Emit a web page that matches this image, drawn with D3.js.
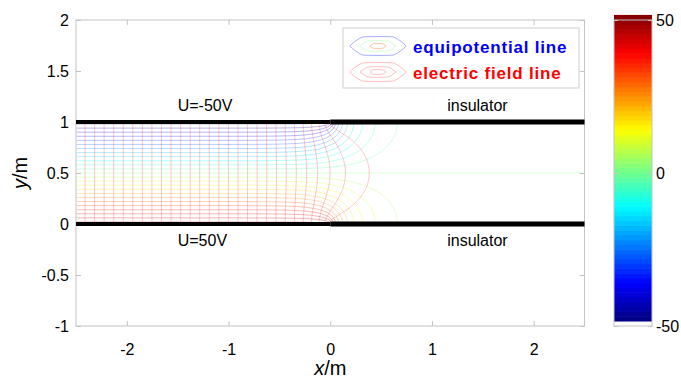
<!DOCTYPE html>
<html>
<head>
<meta charset="utf-8">
<script src="https://cdn.jsdelivr.net/npm/d3@7"></script>
<style>
  body { margin: 0; background: #fff; }
  svg { font-family: "Liberation Sans", Arial, sans-serif; }
</style>
</head>
<body>
<svg id="chart" width="681" height="378"></svg>
<script>
// plates (x < 0) and insulators (x > 0) on the two lines y = 0 and y = 1
const segmentX = [-2.5, 0, 2.5];
const plateY = [0, 1];
const plateVolts = [50, -50];          // bottom plate, top plate
const plateLabels = ['U=50V', 'U=-50V'];
const insulatorLabel = 'insulator';

// contour levels
const equiLevels = [-48, -44, -40, -36, -32, -28, -24, -20, -16, -12, -8, -4, 0,
  4, 8, 12, 16, 20, 24, 28, 32, 36, 40, 44, 48];
const fieldLevels = [9.4, 18.8, 28.2, 37.6, 47, 56.4, 65.8, 75.2, 84.6, 94, 103.4,
  112.8, 122.2, 131.6, 141, 150.4, 159.8, 169.2, 178.6, 188, 197.4, 206.8, 216.2,
  225.6, 235, 244.4, 253.8, 263.2];

const xTicks = [-2, -1, 0, 1, 2];
const yTicks = [-1, -0.5, 0, 0.5, 1, 1.5, 2];
const cbTicks = [-50, 0, 50];

const W = 681, H = 378;
const margin = { top: 20, right: 96.5, bottom: 52, left: 76 };

const svg = d3.select('#chart');

const x = d3.scaleLinear().domain([-2.5, 2.5]).range([margin.left, W - margin.right]);
const y = d3.scaleLinear().domain([-1, 2]).range([H - margin.bottom, margin.top]);

// MATLAB jet
function jet(t) {
  const c = v => Math.round(255 * Math.max(0, Math.min(1, v)));
  return `rgb(${c(1.5 - Math.abs(4 * t - 3))},${c(1.5 - Math.abs(4 * t - 2))},${c(1.5 - Math.abs(4 * t - 1))})`;
}

// potential and flux function of the field between the two plates,
// evaluated on a grid (cell centres) of the strip 0 < y < 1
const nx = 500, ny = 100;
const gx = d3.scaleLinear().domain([0, nx]).range([segmentX[0], segmentX[2]]);
const gy = d3.scaleLinear().domain([0, ny]).range([plateY[0], plateY[1]]);
const Vb = plateVolts[0], Vt = plateVolts[1];
const pot = new Float64Array(nx * ny);
const flux = new Float64Array(nx * ny);
for (let j = 0; j < ny; j++) {
  for (let i = 0; i < nx; i++) {
    const px = gx(i + 0.5), py = gy(j + 0.5);
    const ex = Math.exp(Math.PI * px);
    const wr = ex * Math.cos(Math.PI * py), wi = ex * Math.sin(Math.PI * py);
    const ar = 1 - (wr * wr - wi * wi), ai = -2 * wr * wi;
    const m = Math.hypot(ar, ai);
    const sr = Math.sqrt((m + ar) / 2), si = (ai < 0 ? -1 : 1) * Math.sqrt(Math.max(0, (m - ar) / 2));
    const tr = sr - wi, ti = si + wr;
    const nr = 1 + tr, ni = ti, dr = 1 - tr, di = -ti;
    const den = dr * dr + di * di;
    const qr = (nr * dr + ni * di) / den, qi = (ni * dr - nr * di) / den;
    pot[j * nx + i] = (Vb + Vt) / 2 + (Vb - Vt) / Math.PI * Math.atan2(qi, qr);
    flux[j * nx + i] = (Vb - Vt) / Math.PI * Math.log(Math.hypot(qr, qi));
  }
}

// split contour rings into open lines, dropping the grid border
function ringLines(geom) {
  const out = [];
  const onEdge = p => p[0] <= 0 || p[0] >= nx || p[1] <= 0 || p[1] >= ny;
  geom.coordinates.forEach(poly => poly.forEach(ring => {
    let cur = [];
    ring.forEach(p => {
      if (onEdge(p)) {
        if (cur.length > 1) out.push(cur);
        cur = [];
      } else cur.push(p);
    });
    if (cur.length > 1) out.push(cur);
  }));
  return out;
}

const line = d3.line().x(p => x(gx(p[0]))).y(p => y(gy(p[1])));

const plot = svg.append('g');

const equi = d3.contours().size([nx, ny]).thresholds(equiLevels)(pot);
plot.append('g')
  .selectAll('g')
  .data(equi)
  .join('g')
  .attr('stroke', d => jet((d.value + 50) / 100))
  .attr('stroke-opacity', 0.3)
  .attr('fill', 'none')
  .selectAll('path')
  .data(d => ringLines(d))
  .join('path')
  .attr('d', line);

const field = d3.contours().size([nx, ny]).thresholds(fieldLevels)(flux);
plot.append('g')
  .attr('stroke', '#ff0000')
  .attr('stroke-opacity', 0.22)
  .attr('fill', 'none')
  .selectAll('path')
  .data(field.flatMap(d => ringLines(d)))
  .join('path')
  .attr('d', line);

// axes box and ticks
const gray = '#c4c4c4';
svg.append('rect')
  .attr('x', x(-2.5)).attr('y', y(2))
  .attr('width', x(2.5) - x(-2.5)).attr('height', y(-1) - y(2))
  .attr('fill', 'none').attr('stroke', gray);

function styleAxis(g) {
  g.select('.domain').remove();
  g.selectAll('.tick line').attr('stroke', gray);
  g.selectAll('.tick text').attr('fill', '#000').attr('font-size', 16)
    .attr('font-family', '"Liberation Sans", Arial, sans-serif');
}
const plain = d => String(d);

svg.append('g')
  .attr('transform', `translate(0,${y(-1)})`)
  .call(d3.axisBottom(x).tickValues(xTicks).tickSize(-5).tickPadding(18).tickFormat(plain))
  .call(styleAxis);
svg.append('g')
  .attr('transform', `translate(0,${y(2)})`)
  .call(d3.axisTop(x).tickValues(xTicks).tickSize(-5).tickFormat(''))
  .call(styleAxis);
svg.append('g')
  .attr('transform', `translate(${x(-2.5)},0)`)
  .call(d3.axisLeft(y).tickValues(yTicks).tickSize(-5).tickPadding(7).tickFormat(plain))
  .call(styleAxis);
svg.append('g')
  .attr('transform', `translate(${x(2.5)},0)`)
  .call(d3.axisRight(y).tickValues(yTicks).tickSize(-5).tickFormat(''))
  .call(styleAxis);

// plates and insulators
plateY.forEach(py => {
  svg.append('line')
    .attr('x1', x(segmentX[0])).attr('x2', x(segmentX[1]))
    .attr('y1', y(py)).attr('y2', y(py))
    .attr('stroke', '#000').attr('stroke-width', 4);
  svg.append('line')
    .attr('x1', x(segmentX[1])).attr('x2', x(segmentX[2]))
    .attr('y1', y(py)).attr('y2', y(py))
    .attr('stroke', '#000').attr('stroke-width', 5);
});

// labels of plates
const labelY = [-0.215, 1.11];
plateLabels.forEach((t, k) => {
  svg.append('text').attr('x', x(-1.5)).attr('y', y(labelY[k]))
    .attr('font-size', 16).text(t);
  svg.append('text').attr('x', x(1.15)).attr('y', y(labelY[k]))
    .attr('font-size', 16).text(insulatorLabel);
});

// axis titles
svg.append('text')
  .attr('x', x(0)).attr('y', 375)
  .attr('text-anchor', 'middle').attr('font-size', 20)
  .html('<tspan font-style="italic">x</tspan>/m');
svg.append('text')
  .attr('transform', `translate(27,${y(0.5)}) rotate(-90)`)
  .attr('text-anchor', 'middle').attr('font-size', 20)
  .html('<tspan font-style="italic">y</tspan>/m');

// legend
const lg = svg.append('g');
lg.append('rect')
  .attr('x', 343).attr('y', 28).attr('width', 236).attr('height', 60)
  .attr('fill', '#fff').attr('stroke', '#cfcfcf');
const ringShape = (cx, cy, a, b) => d3.line().curve(d3.curveCardinalClosed.tension(0.6))([
  [cx - a, cy], [cx - a * 0.55, cy - b], [cx + a * 0.55, cy - b],
  [cx + a, cy], [cx + a * 0.55, cy + b], [cx - a * 0.55, cy + b]]);
const rings = [[28, 9], [18, 5], [8, 2.3]];
const equiIcon = [jet(0.15), jet(0.5), jet(0.8)];
rings.forEach((r, k) => {
  lg.append('path').attr('d', ringShape(378, 46, r[0], r[1]))
    .attr('fill', 'none').attr('stroke', equiIcon[k]).attr('stroke-opacity', 0.35);
  lg.append('path').attr('d', ringShape(378, 72, r[0], r[1]))
    .attr('fill', 'none').attr('stroke', '#ff0000').attr('stroke-opacity', 0.25);
});
lg.append('text').attr('x', 413).attr('y', 53)
  .attr('font-size', 17).attr('font-weight', 'bold').attr('letter-spacing', 0.8)
  .attr('fill', '#0000ff').text('equipotential line');
lg.append('text').attr('x', 413).attr('y', 79)
  .attr('font-size', 17).attr('font-weight', 'bold').attr('letter-spacing', 0.8)
  .attr('fill', '#ff0000').text('electric field line');

// colorbar
const cbX0 = 614, cbW = 38;
const cbY = d3.scaleLinear().domain([-50, 50]).range([y(-1), y(2)]);
const nBands = 64;
const bands = d3.range(nBands);
const band = d3.scaleBand().domain(bands).range([cbY(-50), cbY(50)]);
const cb = svg.append('g');
cb.selectAll('rect')
  .data(bands)
  .join('rect')
  .attr('x', cbX0).attr('width', cbW)
  .attr('y', d => band(d) - band.bandwidth() - 0.3)
  .attr('height', band.bandwidth() + 0.6)
  .attr('fill', d => jet((d + 0.5) / nBands));
cb.append('rect')
  .attr('x', cbX0).attr('y', cbY(50)).attr('width', cbW).attr('height', cbY(-50) - cbY(50))
  .attr('fill', 'none').attr('stroke', gray);
cb.append('g')
  .attr('transform', `translate(${cbX0 + cbW},0)`)
  .call(d3.axisRight(cbY).tickValues(cbTicks).tickSize(-4).tickPadding(4).tickFormat(plain))
  .call(styleAxis);
cb.append('g')
  .attr('transform', `translate(${cbX0},0)`)
  .call(d3.axisLeft(cbY).tickValues(cbTicks).tickSize(-4).tickFormat(''))
  .call(styleAxis);
</script>
</body>
</html>
